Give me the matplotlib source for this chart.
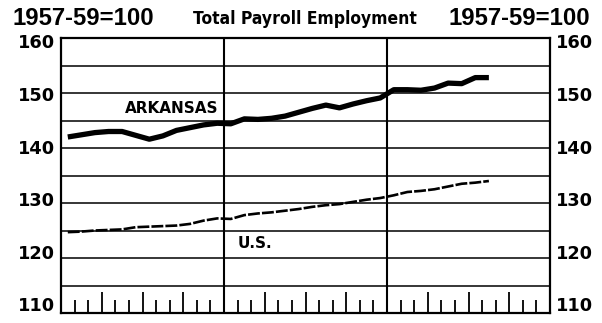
import numpy as np
import matplotlib
matplotlib.use("Agg")
import matplotlib.pyplot as plt

# monthly index values, 1957-59=100 (32 months over a three-year span)
arkansas = [142.0, 142.4, 142.8, 143.0, 143.0, 142.3, 141.6, 142.2,
            143.2, 143.7, 144.2, 144.5, 144.4, 145.3, 145.2, 145.4,
            145.8, 146.5, 147.2, 147.8, 147.3, 148.0, 148.6, 149.1,
            150.6, 150.6, 150.5, 150.9, 151.8, 151.7, 152.8, 152.8]
us = [124.7, 124.8, 125.0, 125.1, 125.2, 125.6, 125.7, 125.8,
      125.9, 126.2, 126.8, 127.2, 127.1, 127.8, 128.1, 128.3,
      128.6, 128.9, 129.3, 129.6, 129.8, 130.2, 130.6, 130.9,
      131.4, 132.0, 132.2, 132.5, 133.0, 133.5, 133.7, 134.0]
y_labels = [160, 150, 140, 130, 120, 110]
grid_levels = [115, 120, 125, 130, 135, 140, 145, 150, 155]
n_years = 3

months = np.arange(len(arkansas)) + 0.5

fig = plt.figure(figsize=(6.02, 3.23), dpi=100)
ax = fig.add_axes([61 / 602, 1 - 313 / 323, 489 / 602, 275 / 323])
ax.set_xlim(0, 12 * n_years)
ax.set_ylim(110, 160)
ax.set_xticks([])
ax.set_yticks([])
for s in ax.spines.values():
    s.set_linewidth(1.6)
    s.set_color("black")

# horizontal rules every 5 points
for g in grid_levels:
    ax.axhline(g, color="black", lw=1.1, zorder=1)
# year dividers
for yr in range(1, n_years):
    ax.axvline(12 * yr, color="black", lw=1.5, zorder=1)

# month ticks along the bottom strip, taller at each quarter
for m in range(1, 12 * n_years):
    if m % 12 == 0:
        continue
    top = 113.8 if m % 3 == 0 else 112.3
    ax.vlines(m, 110, top, color="black", lw=1.3)

ax.plot(months, arkansas, color="black", lw=3.8, solid_capstyle="butt",
        solid_joinstyle="round", zorder=3)
ax.plot(months, us, color="black", lw=1.9, dashes=(4.5, 0.8), zorder=3)

ax.text(4.7, 147.2, "ARKANSAS", fontsize=11, fontweight="bold",
        ha="left", va="center")
ax.text(13.0, 122.6, "U.S.", fontsize=11, fontweight="bold",
        ha="left", va="center")

# scale labels on both sides
for v in y_labels:
    ypos = 159.0 - (160 - v) * 0.956
    ax.text(-0.45, ypos, str(v), fontsize=12.8, fontweight="bold",
            ha="right", va="center", clip_on=False)
    ax.text(36.45, ypos, str(v), fontsize=12.8, fontweight="bold",
            ha="left", va="center", clip_on=False)

head_font = ["Liberation Sans", "DejaVu Sans"]
fig.text(13 / 602, 1 - 18.5 / 323, "1957-59=100", fontsize=17.2,
         fontweight="bold", family=head_font, ha="left", va="center")
fig.text(590 / 602, 1 - 18.5 / 323, "1957-59=100", fontsize=17.2,
         fontweight="bold", family=head_font, ha="right", va="center")
fig.text(305 / 602, 1 - 19 / 323, "Total Payroll Employment", fontsize=12.5,
         fontweight="bold", family="DejaVu Sans", fontstretch="condensed",
         ha="center", va="center")

fig.savefig("out.png", dpi=100)
